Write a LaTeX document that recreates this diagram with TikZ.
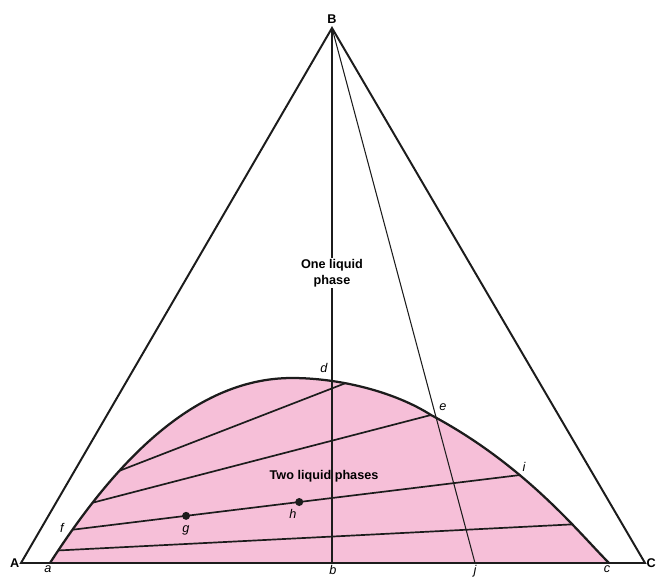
\documentclass[tikz,border=0pt]{standalone}
\usepackage{fontspec}
\setmainfont{Liberation Sans}
\usepackage{xcolor}
\definecolor{PhasePink}{HTML}{F6BFD8}
\definecolor{PhaseInk}{HTML}{1C1C1C}
\usetikzlibrary{positioning}

\begin{document}
\begin{tikzpicture}[
  x=0.25mm, y=-0.25mm,
  edge/.style={draw=PhaseInk, line width=1.4pt},
  tieline/.style={draw=PhaseInk, line width=1.2pt},
  ray/.style={draw=PhaseInk, line width=0.75pt},
  vertex/.style={font=\bfseries\small, inner sep=1pt},
  pt/.style={font=\itshape\small, inner sep=1pt},
  region/.style={font=\bfseries\small, align=center, inner sep=1pt},
  dot/.style={circle, fill=PhaseInk, inner sep=0pt, minimum size=2mm}
]
\useasboundingbox (0,0) rectangle (657,576);

% corners of the triangle
\coordinate (A) at (21,563);
\coordinate (B) at (332,28);
\coordinate (C) at (645,563);

% ends of the binodal curve and of the lines from B
\coordinate (a) at (50,563);
\coordinate (pk) at (292,378);
\coordinate (e) at (431,415);
\coordinate (c) at (609,563);
\coordinate (b) at (332,563);
\coordinate (j) at (475,563);

% two-phase region
\fill[PhasePink] (a) .. controls (110,470) and (190,378) .. (pk)
  .. controls (340,378) and (395,392) .. (e)
  .. controls (525,465) and (579,533) .. (c) -- cycle;
\draw[edge, line width=1.6pt]
  (a) .. controls (110,470) and (190,378) .. (pk)
      coordinate[pos=0.045] (t1l) coordinate[pos=0.12] (f)
      coordinate[pos=0.22] (t3l) coordinate[pos=0.345] (t4l)
  .. controls (340,378) and (395,392) .. (e)
      coordinate[pos=0.36] (t4r)
  .. controls (525,465) and (579,533) .. (c)
      coordinate[pos=0.37] (i) coordinate[pos=0.68] (t1r);

% tie lines
\draw[tieline] (t1l) -- (t1r);
\draw[tieline] (f) -- (i);
\draw[tieline] (t3l) -- (e);
\draw[tieline] (t4l) -- (t4r);
\path (f) -- (i) node[dot, pos=0.254] (g) {} node[dot, pos=0.507] (h) {};

% lines from B
\draw[ray] (B) -- (b);
\draw[ray] (B) -- (j);

% triangle
\draw[edge, line join=miter] (A) -- (B) -- (C) -- cycle;

\node[region, fill=white] (one) at (332,273) {One liquid\\phase};
\node[region] (two) at (324,476) {Two liquid phases};

\node[vertex, left=0pt of A] (lA) {A};
\node[vertex, above=2pt of B] (lB) {B};
\node[vertex, right=0pt of C] (lC) {C};

\node[pt, anchor=north] (la) at (48,564) {a};
\node[pt, anchor=north] (lb) at (333,564) {b};
\node[pt, anchor=north] (lc) at (607,564) {c};
\node[pt, anchor=north] (lj) at (475,564) {j};
\node[pt] (ld) at (324,368) {d};
\node[pt] (le) at (443,407) {e};
\node[pt] (li) at (524,467) {i};
\node[pt] (lf) at (62,528) {f};
\node[pt] (lg) at (186,530) {g};
\node[pt] (lh) at (293,514) {h};
\end{tikzpicture}
\end{document}
